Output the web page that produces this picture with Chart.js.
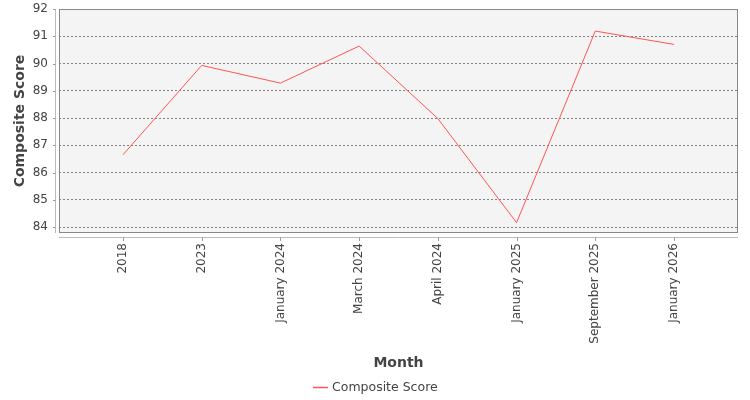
<!DOCTYPE html>
<html>
<head>
<meta charset="utf-8">
<script src="https://cdn.jsdelivr.net/npm/chart.js@4"></script>
<style>
  html, body { margin: 0; padding: 0; background: #fff; }
</style>
</head>
<body>
<canvas id="chart" width="750" height="400"></canvas>
<script>
// ---- data ----
const months = ['2018', '2023', 'January 2024', 'March 2024', 'April 2024', 'January 2025', 'September 2025', 'January 2026'];
const scores = [86.65, 89.93, 89.28, 90.64, 87.98, 84.16, 91.19, 90.70];
const yTicks = [84, 85, 86, 87, 88, 89, 90, 91, 92];

const FONT = 'DejaVu Sans';
const TEXT = '#444';
const LINE = '#ff5555';

// plot background, frame, offset axis lines and a simple legend
const plotFrame = {
  id: 'plotFrame',
  beforeDraw(chart) {
    const { ctx, chartArea: a } = chart;
    ctx.save();
    ctx.fillStyle = '#f4f4f4';
    ctx.fillRect(a.left, a.top, a.right - a.left, a.bottom - a.top);
    ctx.restore();
  },
  afterDraw(chart) {
    const { ctx, chartArea: a, scales } = chart;
    ctx.save();
    ctx.lineWidth = 1;
    ctx.strokeStyle = '#888';
    ctx.strokeRect(a.left + 0.5, a.top + 0.5, a.right - a.left - 1, a.bottom - a.top - 1);

    // axis lines, offset from the plot
    ctx.strokeStyle = '#bbb';
    ctx.beginPath();
    ctx.moveTo(a.left - 3.5, a.top);
    ctx.lineTo(a.left - 3.5, a.bottom);
    ctx.moveTo(a.left, a.bottom + 4.5);
    ctx.lineTo(a.right, a.bottom + 4.5);
    ctx.stroke();

    ctx.strokeStyle = '#999';
    ctx.beginPath();
    yTicks.forEach(v => {
      const y = Math.round(scales.y.getPixelForValue(v)) + 0.5;
      ctx.moveTo(a.left - 6, y);
      ctx.lineTo(a.left - 3.5, y);
    });
    months.forEach((m, i) => {
      const x = Math.round(scales.x.getPixelForValue(i)) + 0.5;
      ctx.moveTo(x, a.bottom + 4.5);
      ctx.lineTo(x, a.bottom + 8);
    });
    ctx.stroke();

    // legend
    const ds = chart.data.datasets[0];
    ctx.font = '12.5px "' + FONT + '"';
    const tw = ctx.measureText(ds.label).width;
    const total = 15 + 4 + tw;
    const x0 = Math.round((chart.width - total) / 2);
    const ly = 387.5;
    ctx.strokeStyle = ds.borderColor;
    ctx.lineWidth = 1.5;
    ctx.beginPath();
    ctx.moveTo(x0, ly);
    ctx.lineTo(x0 + 15, ly);
    ctx.stroke();
    ctx.fillStyle = TEXT;
    ctx.textBaseline = 'middle';
    ctx.fillText(ds.label, x0 + 19, ly);
    ctx.restore();
  },
};

new Chart(document.getElementById('chart'), {
  type: 'line',
  data: {
    datasets: [{
      label: 'Composite Score',
      data: scores.map((v, i) => ({ x: i, y: v })),
      borderColor: LINE,
      backgroundColor: LINE,
      borderWidth: 1,
      pointRadius: 0,
      tension: 0,
      fill: false,
    }],
  },
  options: {
    responsive: false,
    devicePixelRatio: 1,
    animation: false,
    layout: { padding: { top: 9, right: 12, left: 0, bottom: 0 } },
    plugins: { legend: { display: false }, tooltip: { enabled: false } },
    scales: {
      x: {
        type: 'linear',
        min: -0.813,
        max: 7.813,
        afterBuildTicks: s => { s.ticks = months.map((_, i) => ({ value: i })); },
        afterFit: s => { s.height = 167; s.paddingLeft = 0; s.paddingRight = 0; },
        grid: { display: false, drawTicks: false },
        border: { display: false },
        ticks: {
          autoSkip: false,
          minRotation: 90,
          maxRotation: 90,
          padding: 10,
          color: TEXT,
          font: { family: FONT, size: 12 },
          callback: v => months[v],
        },
        title: {
          display: true,
          text: 'Month',
          color: TEXT,
          font: { family: FONT, size: 14, weight: 'bold' },
          padding: { top: 0, bottom: 28 },
        },
      },
      y: {
        min: 83.78,
        max: 92.0,
        afterBuildTicks: s => { s.ticks = yTicks.map(v => ({ value: v })); },
        afterFit: s => { s.width = 59; s.paddingTop = 0; s.paddingBottom = 0; },
        grid: { color: '#808080', lineWidth: 1, drawTicks: false },
        border: { display: false, dash: [2, 2] },
        ticks: {
          padding: 11,
          color: TEXT,
          font: { family: FONT, size: 12 },
        },
        title: {
          display: true,
          text: 'Composite Score',
          color: TEXT,
          font: { family: FONT, size: 14, weight: 'bold' },
          padding: { top: 12, bottom: 0 },
        },
      },
    },
  },
  plugins: [plotFrame],
});
</script>
</body>
</html>
